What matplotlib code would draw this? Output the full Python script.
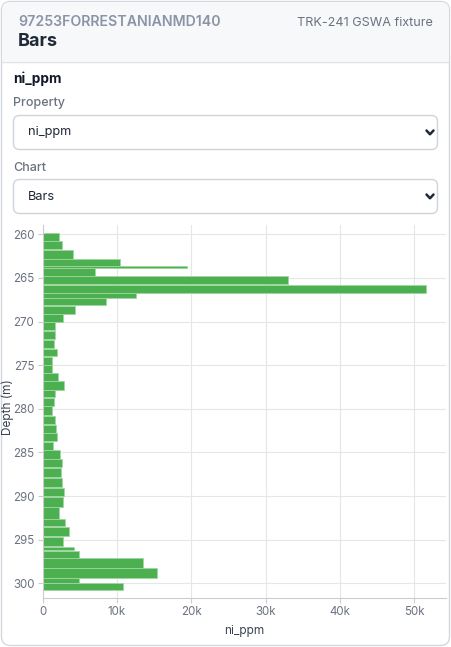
import matplotlib.pyplot as plt
from matplotlib.patches import FancyBboxPatch, Rectangle
from matplotlib.ticker import FuncFormatter

plt.rcParams['font.family'] = ['Inter', 'DejaVu Sans']

depth_from = [259.85, 260.8, 261.8, 262.85, 263.65, 263.85, 264.8, 265.8, 266.75, 267.35,
              268.2, 269.15, 270.05, 271.05, 272.15, 273.1, 274.1, 275.0, 275.9, 276.85,
              277.85, 278.8, 279.7, 280.8, 281.8, 282.8, 283.8, 284.75, 285.75, 286.8,
              287.9, 289.05, 290.15, 291.25, 292.65, 293.5, 294.65, 295.8, 296.25, 297.15,
              298.3, 299.4, 299.95]
depth_to = [260.75, 261.7, 262.8, 263.65, 263.85, 264.8, 265.75, 266.7, 267.3, 268.1,
            269.1, 270.0, 271.0, 272.05, 273.05, 274.0, 275.0, 275.9, 276.8, 277.8,
            278.7, 279.7, 280.7, 281.7, 282.75, 283.7, 284.7, 285.7, 286.7, 287.8,
            289.0, 290.05, 291.2, 292.6, 293.45, 294.6, 295.75, 296.2, 297.1, 298.2,
            299.35, 299.95, 300.8]
ni_ppm = [2230, 2550, 4100, 10400, 19350, 7070, 33000, 51500, 12540, 8550,
          4300, 2700, 1700, 1650, 1560, 1880, 1300, 1200, 2000, 2860,
          1600, 1520, 1280, 1600, 1830, 1880, 1430, 2280, 2550, 2460,
          2600, 2820, 2700, 2230, 2960, 3580, 2730, 4250, 4840, 13500,
          15360, 4920, 10800]

hole_id = "97253FORRESTANIANMD140"
fixture = "TRK-241 GSWA fixture"
prop = "ni_ppm"
chart_kind = "Bars"

W, H = 451, 647
fig = plt.figure(figsize=(W / 100, H / 100), dpi=100)

# card / form background drawn in pixel coordinates
bg = fig.add_axes([0, 0, 1, 1], zorder=0)
bg.set_xlim(0, W)
bg.set_ylim(H, 0)
bg.axis('off')

bg.add_patch(FancyBboxPatch((1.5, 1.5), W - 3, H - 3, boxstyle="round,pad=0,rounding_size=9",
                            facecolor='white', edgecolor='#d4d7dc', linewidth=1))
bg.add_patch(FancyBboxPatch((2, 2), W - 4, 59, boxstyle="round,pad=0,rounding_size=8",
                            facecolor='#f7f8fa', edgecolor='none'))
bg.add_patch(Rectangle((2, 40), W - 4, 21, facecolor='#f7f8fa', edgecolor='none'))
bg.plot([2, W - 2], [61.5, 61.5], color='#dfe2e6', linewidth=1)

bg.text(18, 22, hole_id, fontsize=10.2, fontweight='semibold', color='#8a94a6', va='center')
bg.text(18, 41, "Bars", fontsize=13, fontweight='bold', color='#1f2937', va='center')
bg.text(433, 23, fixture, fontsize=9.1, color='#6b7280', va='center', ha='right')

bg.text(13, 79, prop, fontsize=9.8, fontweight='bold', color='#111827', va='center')
bg.text(13, 103, "Property", fontsize=9, fontweight='medium', color='#6b7280', va='center')
bg.text(13, 168, "Chart", fontsize=9, fontweight='medium', color='#6b7280', va='center')

for y0, label in [(115.5, prop), (179.5, chart_kind)]:
    bg.add_patch(FancyBboxPatch((13.5, y0), 424, 34, boxstyle="round,pad=0,rounding_size=6",
                                facecolor='white', edgecolor='#cfd4da', linewidth=1))
    bg.text(28, y0 + 17, label, fontsize=9.2, color='#1f2937', va='center')
    cy = y0 + 17
    bg.plot([426.5, 430, 433.5], [cy - 2, cy + 1.8, cy - 2], color='#1f2937',
            linewidth=1.8, solid_capstyle='round', solid_joinstyle='round')

# the depth log itself
ax = fig.add_axes([42.7 / W, 1 - 597.7 / H, 403 / W, 372.7 / H], zorder=1)
ax.patch.set_alpha(0)
heights = [b - a for a, b in zip(depth_from, depth_to)]
ax.barh(depth_from, ni_ppm, height=heights, align='edge', color='#4caf50',
        edgecolor='#9fd6a1', linewidth=0.6, zorder=2)

ax.set_xlim(0, 54200)
ax.set_ylim(301.65, 258.93)
ax.set_xticks([0, 10000, 20000, 30000, 40000, 50000])
ax.xaxis.set_major_formatter(FuncFormatter(lambda v, p: "0" if v == 0 else f"{int(v / 1000)}k"))
ax.set_yticks(range(260, 301, 5))

ax.grid(True, color='#e6e6e6', linewidth=0.8, zorder=0)
ax.set_axisbelow(True)
for side in ['top', 'right']:
    ax.spines[side].set_visible(False)
for side in ['left', 'bottom']:
    ax.spines[side].set_color('#cccccc')
    ax.spines[side].set_linewidth(0.8)
ax.tick_params(length=3.5, width=0.8, color='#cccccc', labelsize=8.3, labelcolor='#6b7280', pad=2.5)

ax.set_ylabel("Depth (m)", fontsize=8.5, color='#374151', va='center')
ax.yaxis.set_label_coords(-0.086, 0.51)
ax.set_xlabel("ni_ppm", fontsize=8.5, color='#374151', labelpad=5)

fig.savefig("out.png", dpi=100)
